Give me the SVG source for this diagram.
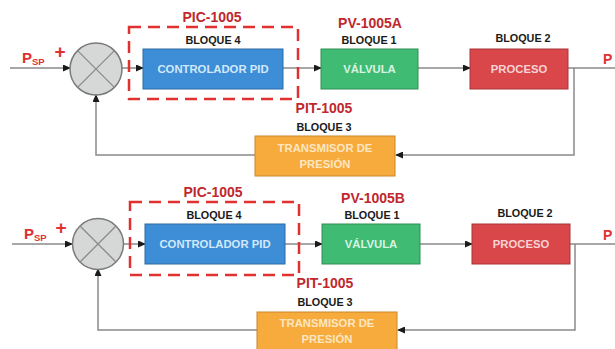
<svg xmlns="http://www.w3.org/2000/svg" width="615" height="349" viewBox="0 0 615 349">
<defs>
<marker id="ah" markerWidth="8" markerHeight="7" refX="7" refY="3.5" orient="auto" markerUnits="userSpaceOnUse">
<path d="M0,0 L8,3.5 L0,7 Z" fill="#1a1a1a"/>
</marker>
<style>
.ln{fill:none;stroke:#8a8a8a;stroke-width:1.5}
.arr{marker-end:url(#ah)}
.sum{fill:#d5d8d6;stroke:#7a7a7a;stroke-width:1.5}
.x{stroke:#8a8a8a;stroke-width:1.3}
.tag{font-family:"Liberation Sans",Arial,sans-serif;font-weight:bold;font-size:14px;fill:#c0282d;text-anchor:middle}
.blq{font-family:"Liberation Sans",Arial,sans-serif;font-weight:bold;font-size:10.8px;fill:#1a1a1a;text-anchor:middle}
.bt{font-family:"Liberation Sans",Arial,sans-serif;font-weight:bold;font-size:11.3px;text-anchor:middle}
.red{font-family:"Liberation Sans",Arial,sans-serif;font-weight:bold;fill:#e0302f}
.dash{fill:none;stroke:#e0302f;stroke-width:2.5;stroke-dasharray:12 7}
.pid{fill:#3d8ed6;stroke:#2d6aa5;stroke-width:1}
.val{fill:#3fbb73;stroke:#2e8f55;stroke-width:1}
.pro{fill:#d9474b;stroke:#a83538;stroke-width:1}
.tx{fill:#f6ab3c;stroke:#c9862a;stroke-width:1}
</style>
</defs>

<!-- ===== Top diagram ===== -->
<g id="connectors-top">
<line class="ln arr" x1="10" y1="68" x2="70" y2="68"/>
<line class="ln arr" x1="122" y1="68" x2="143" y2="68"/>
<line class="ln arr" x1="283" y1="68" x2="321" y2="68"/>
<line class="ln arr" x1="418" y1="68" x2="470" y2="68"/>
<line class="ln" x1="568" y1="68" x2="615" y2="68"/>
<polyline class="ln arr" points="574,68 574,155 396,155"/>
<polyline class="ln arr" points="255,155 96,155 96,95"/>
</g>

<g id="psp-top">
<text class="red" x="22" y="63" font-size="15">P<tspan font-size="9.5" dy="2">SP</tspan></text>
<text class="red" x="60" y="58" font-size="19" text-anchor="middle">+</text>
</g>

<g id="sum-top">
<circle class="sum" cx="96" cy="69" r="26"/>
<line class="x" x1="77.6" y1="50.6" x2="114.4" y2="87.4"/>
<line class="x" x1="114.4" y1="50.6" x2="77.6" y2="87.4"/>
</g>

<g id="pic-top">
<rect class="dash" x="129" y="27" width="169" height="72"/>
<text class="tag" x="212" y="22">PIC-1005</text>
<text class="blq" x="213" y="44">BLOQUE 4</text>
<rect class="pid" x="143" y="49" width="140" height="40"/>
<text class="bt" x="213" y="73" fill="#d3e8fb">CONTROLADOR PID</text>
</g>

<g id="valve-top">
<text class="tag" x="370" y="28">PV-1005A</text>
<text class="blq" x="369" y="44">BLOQUE 1</text>
<rect class="val" x="321" y="49" width="97" height="40"/>
<text class="bt" x="369.5" y="73" fill="#d8f3e2">VÁLVULA</text>
</g>

<g id="process-top">
<text class="blq" x="523" y="42">BLOQUE 2</text>
<rect class="pro" x="470" y="49" width="98" height="40"/>
<text class="bt" x="519" y="73" fill="#f7d3d3">PROCESO</text>
<text class="red" x="603" y="64" font-size="14">P</text>
</g>

<g id="transmitter-top">
<text class="tag" x="324" y="113">PIT-1005</text>
<text class="blq" x="324" y="131">BLOQUE 3</text>
<rect class="tx" x="255" y="136" width="140" height="40"/>
<text class="bt" x="325" y="152" fill="#fde6c2">TRANSMISOR DE</text>
<text class="bt" x="325" y="168" fill="#fde6c2">PRESIÓN</text>
</g>

<!-- ===== Bottom diagram ===== -->
<g id="connectors-bottom">
<line class="ln arr" x1="12" y1="244" x2="72" y2="244"/>
<line class="ln arr" x1="123" y1="244" x2="145" y2="244"/>
<line class="ln arr" x1="285" y1="244" x2="322" y2="244"/>
<line class="ln arr" x1="420" y1="244" x2="472" y2="244"/>
<line class="ln" x1="570" y1="244" x2="615" y2="244"/>
<polyline class="ln arr" points="575,244 575,330 398,330"/>
<polyline class="ln arr" points="257,330 98,330 98,269"/>
</g>

<g id="psp-bottom">
<text class="red" x="24" y="239" font-size="15">P<tspan font-size="9.5" dy="2">SP</tspan></text>
<text class="red" x="61" y="234" font-size="19" text-anchor="middle">+</text>
</g>

<g id="sum-bottom">
<circle class="sum" cx="98" cy="244" r="25.5"/>
<line class="x" x1="80" y1="226" x2="116" y2="262"/>
<line class="x" x1="116" y1="226" x2="80" y2="262"/>
</g>

<g id="pic-bottom">
<rect class="dash" x="130" y="202" width="169" height="73"/>
<text class="tag" x="213" y="197">PIC-1005</text>
<text class="blq" x="214" y="219">BLOQUE 4</text>
<rect class="pid" x="145" y="224" width="140" height="40"/>
<text class="bt" x="215" y="248" fill="#d3e8fb">CONTROLADOR PID</text>
</g>

<g id="valve-bottom">
<text class="tag" x="373" y="203">PV-1005B</text>
<text class="blq" x="372" y="219">BLOQUE 1</text>
<rect class="val" x="322" y="224" width="98" height="40"/>
<text class="bt" x="371" y="248" fill="#d8f3e2">VÁLVULA</text>
</g>

<g id="process-bottom">
<text class="blq" x="525" y="217">BLOQUE 2</text>
<rect class="pro" x="472" y="224" width="98" height="40"/>
<text class="bt" x="521" y="248" fill="#f7d3d3">PROCESO</text>
<text class="red" x="603" y="240" font-size="14">P</text>
</g>

<g id="transmitter-bottom">
<text class="tag" x="325" y="288">PIT-1005</text>
<text class="blq" x="325" y="306">BLOQUE 3</text>
<rect class="tx" x="257" y="312" width="140" height="40"/>
<text class="bt" x="327" y="327" fill="#fde6c2">TRANSMISOR DE</text>
<text class="bt" x="327" y="343" fill="#fde6c2">PRESIÓN</text>
</g>
</svg>
